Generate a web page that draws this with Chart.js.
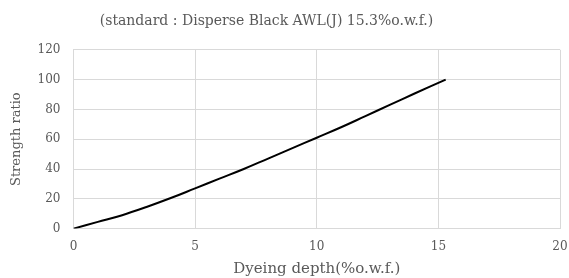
<!DOCTYPE html>
<html>
<head>
<meta charset="utf-8">
<script src="https://cdn.jsdelivr.net/npm/chart.js@4/dist/chart.umd.min.js"></script>
<style>
  html, body { margin: 0; padding: 0; background: #ffffff; }
  #wrap { width: 569px; height: 278px; position: relative; }
</style>
</head>
<body>
<div id="wrap"><canvas id="strengthChart"></canvas></div>
<script>
// dyeing depth (%o.w.f.) vs strength ratio
const depth = [0, 1, 2, 3, 4, 5, 6, 7, 8, 9, 10, 11, 12, 13, 14, 15.3];
const strength = [0, 4.5, 9, 14.5, 20.5, 27, 33.5, 40, 47, 54, 61, 68, 75.5, 83, 90.5, 100];

const titleText = "(standard : Disperse Black AWL(J) 15.3%o.w.f.)";
const xTitle = "Dyeing depth(%o.w.f.)";
const yTitle = "Strength ratio";

const textColor = "#595959";
const gridColor = "#d9d9d9";
const fontFamily = "'DejaVu Serif', 'Liberation Serif', serif";

let points = [];
for (let i = 0; i < depth.length; i++) {
	points.push({ x: depth[i], y: strength[i] });
}

// the original title sits a bit left of the canvas centre
const shiftTitle = {
	id: "shiftTitle",
	afterLayout(chart) {
		if (chart.titleBlock) {
			chart.titleBlock.left -= 19;
			chart.titleBlock.right -= 19;
		}
	}
};

let ctx = document.getElementById("strengthChart").getContext("2d");
let strengthGraph = new Chart(ctx, {
	type: "scatter",
	data: {
		datasets: [{
			data: points,
			showLine: true,
			borderColor: "#000000",
			borderWidth: 2,
			pointRadius: 0,
			tension: 0.4,
			fill: false
		}]
	},
	plugins: [shiftTitle],
	options: {
		responsive: true,
		maintainAspectRatio: false,
		animation: false,
		layout: { padding: { left: 2, right: 0, top: 2, bottom: 0 } },
		plugins: {
			legend: { display: false },
			tooltip: { enabled: false },
			title: {
				display: true,
				text: titleText,
				color: textColor,
				font: { family: fontFamily, size: 14, weight: "normal" },
				padding: { top: 11, bottom: 20 }
			}
		},
		scales: {
			x: {
				type: "linear",
				min: 0,
				max: 20,
				// keep the plot's right edge close to the canvas like the original
				afterFit: function(scale) { scale.paddingRight = 9; },
				ticks: { stepSize: 5, color: textColor, font: { family: fontFamily, size: 12 }, padding: 11 },
				grid: { color: gridColor, drawTicks: false },
				border: { color: gridColor },
				title: { display: true, text: xTitle, color: textColor, font: { family: fontFamily, size: 15 }, padding: { top: -5, bottom: 0 } }
			},
			y: {
				min: 0,
				max: 120,
				ticks: { stepSize: 20, color: textColor, font: { family: fontFamily, size: 12 }, padding: 13 },
				grid: { color: gridColor, drawTicks: false },
				border: { color: gridColor },
				title: { display: true, text: yTitle, color: textColor, font: { family: fontFamily, size: 13 }, padding: { top: 7, bottom: 0 } }
			}
		}
	}
});
</script>
</body>
</html>
